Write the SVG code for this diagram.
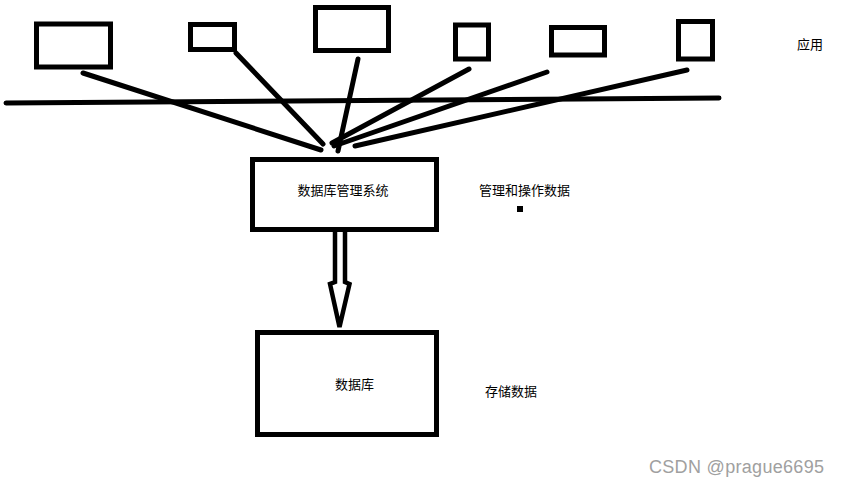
<svg xmlns="http://www.w3.org/2000/svg" width="843" height="487" viewBox="0 0 843 487">
<style>
.box{fill:#fff;stroke:#000;stroke-width:5}
.ln{stroke:#000;stroke-width:5;stroke-linecap:round;fill:none}
.t{font-family:"Noto Sans CJK SC","Liberation Sans",sans-serif;font-size:13px;fill:#000;dominant-baseline:central}
.wm{font-family:"Liberation Sans",Arial,sans-serif;font-size:18px;fill:#a0a0a0}
</style>
<rect width="843" height="487" fill="#fff"/>
<g id="connectors">
<path class="ln" d="M6,103 L719,98"/>
<path class="ln" d="M83,73 L321,150"/>
<path class="ln" d="M236,53 L323,144"/>
<path class="ln" d="M358,59 L338,151"/>
<path class="ln" d="M469,69 L332,143"/>
<path class="ln" d="M547,72 L334,146"/>
<path class="ln" d="M687,70 L355,146"/>
<path d="M335,232 L335,282 L330,284 L339.5,327 L349.5,284 L345,282 L345,232" fill="#fff" stroke="#000" stroke-width="4.5" stroke-linejoin="miter"/>
</g>
<g id="app1"><rect class="box" x="36.5" y="24" width="74" height="43"/></g>
<g id="app2"><rect class="box" x="190.5" y="24.5" width="44" height="25"/></g>
<g id="app3"><rect class="box" x="315.5" y="7.5" width="73" height="43"/></g>
<g id="app4"><rect class="box" x="455.5" y="25" width="33" height="34"/></g>
<g id="app5"><rect class="box" x="551.5" y="27.5" width="53" height="27.5"/></g>
<g id="app6"><rect class="box" x="678.5" y="21.5" width="34" height="37.5"/></g>
<g id="label-app"><text class="t" x="797" y="43">应用</text></g>
<g id="dbms">
<rect class="box" x="252.5" y="159.5" width="184" height="70"/>
<text class="t" x="343" y="189" text-anchor="middle">数据库管理系统</text>
</g>
<g id="label-dbms">
<text class="t" x="479" y="189">管理和操作数据</text>
<rect x="517" y="206" width="6" height="6" fill="#000"/>
</g>
<g id="db">
<rect class="box" x="257.5" y="332.5" width="179" height="102"/>
<text class="t" x="354.5" y="383" text-anchor="middle">数据库</text>
</g>
<g id="label-db"><text class="t" x="485" y="390">存储数据</text></g>
<text class="wm" x="649" y="473" textLength="175">CSDN @prague6695</text>
</svg>
